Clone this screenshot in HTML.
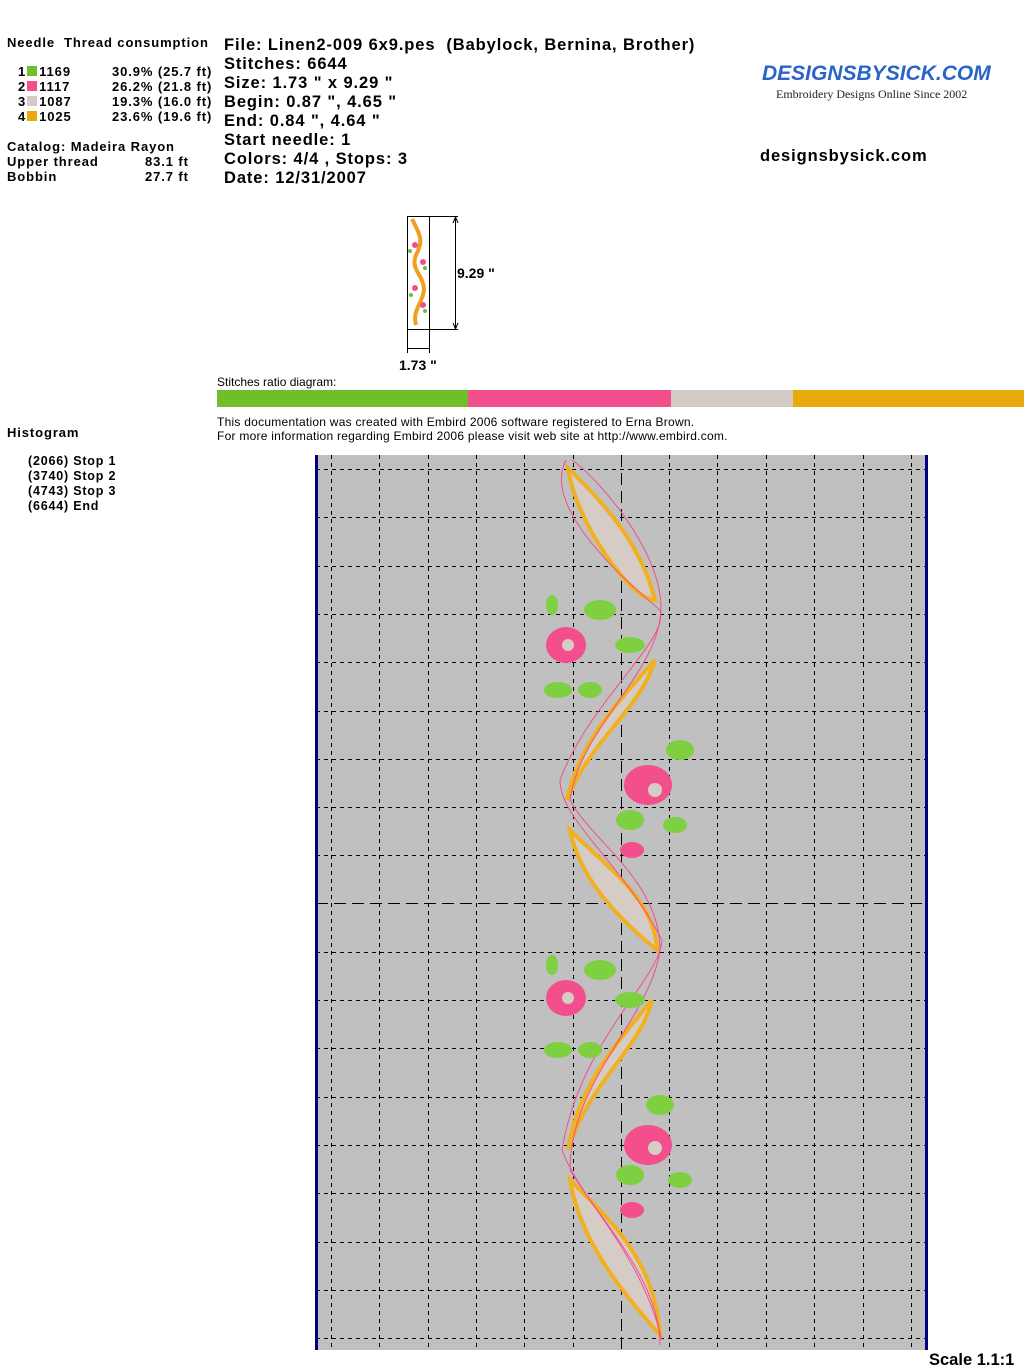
<!DOCTYPE html>
<html><head><meta charset="utf-8"><style>
body{margin:0;width:1024px;height:1370px;background:#fff;position:relative;font-family:"Liberation Sans",Arial,sans-serif;overflow:hidden}
.a{position:absolute;white-space:pre;font-weight:bold;color:#000}
.s{font-size:13px;letter-spacing:0.9px}
.h{font-size:16.5px;letter-spacing:0.9px}
.n{position:absolute;font-size:12px;white-space:pre}
</style></head><body>
<div class="a s" style="left:7px;top:35px">Needle  Thread consumption</div>
<div class="a s" style="left:18px;top:64px;line-height:15px">1<span style="display:inline-block;width:10px;height:10px;background:#6fbe2a;margin:0 2px 0 1px"></span>1169
2<span style="display:inline-block;width:10px;height:10px;background:#f24f8c;margin:0 2px 0 1px"></span>1117
3<span style="display:inline-block;width:10px;height:10px;background:#d4ccc4;margin:0 2px 0 1px"></span>1087
4<span style="display:inline-block;width:10px;height:10px;background:#e8a90c;margin:0 2px 0 1px"></span>1025</div>
<div class="a s" style="left:112px;top:64px;line-height:15px">30.9% (25.7 ft)
26.2% (21.8 ft)
19.3% (16.0 ft)
23.6% (19.6 ft)</div>
<div class="a s" style="left:7px;top:139px;line-height:15px">Catalog: Madeira Rayon
Upper thread
Bobbin</div>
<div class="a s" style="left:145px;top:154px;line-height:15px">83.1 ft
27.7 ft</div>
<div class="a h" style="left:224px;top:36px;line-height:19px">File: Linen2-009 6x9.pes  (Babylock, Bernina, Brother)
Stitches: 6644
Size: 1.73 " x 9.29 "
Begin: 0.87 ", 4.65 "
End: 0.84 ", 4.64 "
Start needle: 1
Colors: 4/4 , Stops: 3
Date: 12/31/2007</div>
<div style="position:absolute;left:762px;top:62px;font-family:'Liberation Sans',sans-serif;color:#2a63c9;font-size:21px;font-weight:bold;font-style:italic">DESIGNSBYSICK.COM</div>
<div style="position:absolute;left:776px;top:87px;font-family:'Liberation Serif',serif;font-size:12px;color:#222">Embroidery Designs Online Since 2002</div>
<div class="a h" style="left:760px;top:147px">designsbysick.com</div>

<svg style="position:absolute;left:390px;top:205px" width="120" height="170">
<rect x="17.5" y="11.5" width="22" height="113" fill="none" stroke="#000"/>
<path d="M22 14 C30 30 34 35 26 50 C20 65 34 70 34 85 C32 100 22 105 26 120" stroke="#f0a020" stroke-width="4" fill="none"/>
<circle cx="25" cy="40" r="3" fill="#f24f8c"/><circle cx="33" cy="57" r="3" fill="#f24f8c"/><circle cx="25" cy="83" r="3" fill="#f24f8c"/><circle cx="33" cy="100" r="3" fill="#f24f8c"/>
<circle cx="20" cy="46" r="2" fill="#6fbe2a"/><circle cx="35" cy="63" r="2" fill="#6fbe2a"/><circle cx="21" cy="90" r="2" fill="#6fbe2a"/><circle cx="35" cy="106" r="2" fill="#6fbe2a"/>
<line x1="40" y1="11.5" x2="68" y2="11.5" stroke="#000"/><line x1="40" y1="124.5" x2="68" y2="124.5" stroke="#000"/>
<line x1="65.5" y1="12" x2="65.5" y2="124" stroke="#000"/>
<path d="M63 18 L65.5 12 L68 18 M63 118 L65.5 124 L68 118" fill="none" stroke="#000"/>
<line x1="17.5" y1="125" x2="17.5" y2="148" stroke="#000"/><line x1="39.5" y1="125" x2="39.5" y2="148" stroke="#000"/>
<line x1="18" y1="143.5" x2="39" y2="143.5" stroke="#000"/>
<text x="67" y="73" font-size="14" font-weight="bold" font-family="Liberation Sans">9.29 "</text>
<text x="9" y="165" font-size="14" font-weight="bold" font-family="Liberation Sans">1.73 "</text>
</svg>

<div class="n" style="left:217px;top:375px">Stitches ratio diagram:</div>
<div style="position:absolute;left:217px;top:390px;height:17px;width:251px;background:#6fbe2a"></div>
<div style="position:absolute;left:468px;top:390px;height:17px;width:203px;background:#f24f8c"></div>
<div style="position:absolute;left:671px;top:390px;height:17px;width:122px;background:#d4ccc4"></div>
<div style="position:absolute;left:793px;top:390px;height:17px;width:231px;background:#e8a90c"></div>
<div class="n" style="left:217px;top:415px;line-height:14px;letter-spacing:0.25px">This documentation was created with Embird 2006 software registered to Erna Brown.
For more information regarding Embird 2006 please visit web site at http://www.embird.com.</div>
<div class="a s" style="left:7px;top:425px">Histogram</div>
<div class="a" style="left:28px;top:454px;font-size:12.5px;line-height:15px;letter-spacing:0.8px">(2066) Stop 1
(3740) Stop 2
(4743) Stop 3
(6644) End</div>

<svg style="position:absolute;left:0;top:0" width="1024" height="1370">
<rect x="316" y="455" width="611" height="895" fill="#c0c0c0"/>
<g stroke="#000" stroke-width="1" stroke-dasharray="4,4" fill="none">
<path d="M331.5 455V1350M379.5 455V1350M428.5 455V1350M476.5 455V1350M524.5 455V1350M573.5 455V1350M669.5 455V1350M717.5 455V1350M766.5 455V1350M814.5 455V1350M863.5 455V1350M911.5 455V1350"/>
<path d="M316 469.5H927M316 517.5H927M316 566.5H927M316 614.5H927M316 662.5H927M316 711.5H927M316 759.5H927M316 807.5H927M316 855.5H927M316 952.5H927M316 1000.5H927M316 1048.5H927M316 1097.5H927M316 1145.5H927M316 1193.5H927M316 1242.5H927M316 1290.5H927M316 1338.5H927"/>
</g>
<g stroke="#000" stroke-width="1" stroke-dasharray="12,6" fill="none">
<path d="M621.5 455V1350M316 903.5H927"/>
</g>
<rect x="315" y="455" width="3" height="895" fill="#000080"/>
<rect x="925" y="455" width="3" height="895" fill="#000080"/>
<g stroke="#f0b020" stroke-width="4" fill="#d6ccc6">
<path d="M568 468 C600 500 640 540 655 600 C630 600 575 520 568 468Z"/>
<path d="M655 660 C640 710 590 740 567 800 C580 740 620 700 655 660Z"/>
<path d="M570 830 C610 870 655 900 657 950 C620 920 580 880 570 830Z"/>
<path d="M652 1000 C640 1050 590 1080 568 1150 C580 1080 620 1040 652 1000Z"/>
<path d="M570 1180 C610 1220 655 1260 660 1335 C620 1290 580 1240 570 1180Z"/>
</g>
<g stroke="#f24f8c" stroke-width="1" fill="none">
<path d="M566 460 C545 500 600 560 660 610 C670 640 590 700 560 780 C560 820 620 860 662 940 C660 980 580 1040 562 1150 C580 1200 640 1250 662 1340"/>
<path d="M572 460 C600 480 670 560 660 620 C650 680 580 730 570 800 C590 840 660 880 660 950 C650 1020 570 1080 570 1170 C600 1220 660 1280 660 1345"/>
</g>
<g fill="#7ed040">
<ellipse cx="600" cy="610" rx="16" ry="10"/><ellipse cx="630" cy="645" rx="15" ry="8"/><ellipse cx="558" cy="690" rx="14" ry="8"/><ellipse cx="590" cy="690" rx="12" ry="8"/>
<ellipse cx="680" cy="750" rx="14" ry="10"/><ellipse cx="675" cy="825" rx="12" ry="8"/><ellipse cx="630" cy="820" rx="14" ry="10"/>
<ellipse cx="600" cy="970" rx="16" ry="10"/><ellipse cx="630" cy="1000" rx="15" ry="8"/><ellipse cx="558" cy="1050" rx="14" ry="8"/><ellipse cx="590" cy="1050" rx="12" ry="8"/>
<ellipse cx="660" cy="1105" rx="14" ry="10"/><ellipse cx="680" cy="1180" rx="12" ry="8"/><ellipse cx="630" cy="1175" rx="14" ry="10"/>
<ellipse cx="552" cy="605" rx="6" ry="10"/><ellipse cx="552" cy="965" rx="6" ry="10"/>
</g>
<g fill="#f24f8c">
<ellipse cx="566" cy="645" rx="20" ry="18"/><ellipse cx="648" cy="785" rx="24" ry="20"/><ellipse cx="632" cy="850" rx="12" ry="8"/>
<ellipse cx="566" cy="998" rx="20" ry="18"/><ellipse cx="648" cy="1145" rx="24" ry="20"/><ellipse cx="632" cy="1210" rx="12" ry="8"/>
</g>
<g fill="#d6ccc6"><circle cx="568" cy="645" r="6"/><circle cx="655" cy="790" r="7"/><circle cx="568" cy="998" r="6"/><circle cx="655" cy="1148" r="7"/></g>
<text x="929" y="1365" font-size="16.5" font-weight="bold" font-family="Liberation Sans">Scale 1.1:1</text>
</svg>
</body></html>
